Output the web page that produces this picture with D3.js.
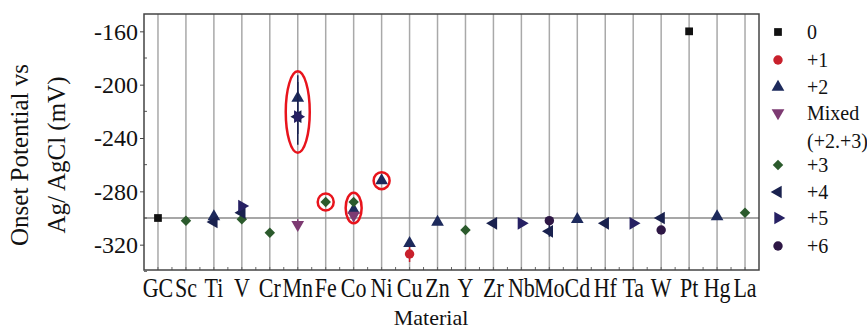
<!DOCTYPE html>
<html>
<head>
<meta charset="utf-8">
<script src="https://cdn.jsdelivr.net/npm/d3@7"></script>
<style>
  body { margin: 0; background: #fff; }
  svg text { font-family: "Liberation Serif", "DejaVu Serif", serif !important; fill: #111; }
</style>
</head>
<body>
<div id="wrapper"></div>
<script>
const materials = ["GC", "Sc", "Ti", "V", "Cr", "Mn", "Fe", "Co", "Ni", "Cu", "Zn",
    "Y", "Zr", "Nb", "Mo", "Cd", "Hf", "Ta", "W", "Pt", "Hg", "La"]
const yTicks = [-320, -280, -240, -200, -160]
const yMinorTicks = [-340, -300, -260, -220, -180]

// [material, onset potential, low, high]
const state0 = [["GC", -300], ["Pt", -160]]
const state1 = [["Cu", -327, -333, -320]]
const state2 = [["Ti", -299], ["Mn", -210, -237, -193], ["Co", -294], ["Ni", -272],
    ["Cu", -319], ["Zn", -303], ["Cd", -301], ["Hg", -299]]
const stateMixed = [["Mn", -305, -309, -301], ["Co", -298]]
const state3 = [["Sc", -302], ["V", -301], ["Cr", -311], ["Fe", -288], ["Co", -288],
    ["Y", -309], ["La", -296]]
const state4 = [["Ti", -303], ["V", -296], ["Mn", -224, -245, -198], ["Zr", -304],
    ["Mo", -310, -314, -305], ["Hf", -304], ["W", -300]]
const state5 = [["V", -291], ["Mn", -224], ["Nb", -304], ["Ta", -304]]
const state6 = [["Mo", -302], ["W", -309]]

const stateNames = ["0", "+1", "+2", "Mixed", "+3", "+4", "+5", "+6"]
const stateData = [state0, state1, state2, stateMixed, state3, state4, state5, state6]
const stateColors = ["#111111", "#c8202c", "#1d2a5c", "#7d3a72", "#2b5a2c", "#19214e", "#262063", "#2e1745"]

// circled points: [material, low, high]
const highlights = [["Mn", -251, -190], ["Fe", -288, -288], ["Co", -304, -281], ["Ni", -272, -272]]

const dimensions = {
    width: 867,
    height: 329,
    margin: { top: 14, right: 108, bottom: 59, left: 144 },
}
dimensions.boundedWidth = dimensions.width - dimensions.margin.left - dimensions.margin.right
dimensions.boundedHeight = dimensions.height - dimensions.margin.top - dimensions.margin.bottom

const wrapper = d3.select("#wrapper")
    .append("svg")
    .attr("width", dimensions.width)
    .attr("height", dimensions.height)

const bounds = wrapper.append("g")
    .attr("transform", `translate(${dimensions.margin.left},${dimensions.margin.top})`)

const xScale = d3.scalePoint()
    .domain(materials)
    .range([0, dimensions.boundedWidth])
    .padding(0.5)
const yScale = d3.scaleLinear()
    .domain([-339, -147])
    .range([dimensions.boundedHeight, 0])

// vertical grid
bounds.append("g")
    .selectAll("line")
    .data(materials)
    .join("line")
    .attr("x1", d => xScale(d))
    .attr("x2", d => xScale(d))
    .attr("y1", 0)
    .attr("y2", dimensions.boundedHeight)
    .attr("stroke", "#a9a9a9")
    .attr("stroke-width", 1.5)

// reference line at GC
bounds.append("line")
    .attr("x1", 0)
    .attr("x2", dimensions.boundedWidth)
    .attr("y1", yScale(state0[0][1]))
    .attr("y2", yScale(state0[0][1]))
    .attr("stroke", "#8a8a8a")
    .attr("stroke-width", 1.5)

// y axis
const yAxis = bounds.append("g")
    .call(d3.axisLeft(yScale).tickValues(yTicks).tickSize(4).tickFormat(d => d))
    .attr("font-family", null)
yAxis.select(".domain").remove()
yAxis.selectAll("line").attr("stroke", "#444")
yAxis.selectAll("text")
    .attr("font-size", 24)
    .attr("x", -6)
    .attr("dy", "0.33em")
bounds.append("g")
    .selectAll("line")
    .data(yMinorTicks)
    .join("line")
    .attr("x1", 0).attr("x2", 3)
    .attr("y1", d => yScale(d)).attr("y2", d => yScale(d))
    .attr("stroke", "#555")

// x axis small ticks inside the frame
const halfSteps = materials.flatMap((m, i) => i < materials.length - 1
    ? [xScale(m), xScale(m) + xScale.step() / 2] : [xScale(m)])
bounds.append("g")
    .selectAll("line")
    .data(halfSteps)
    .join("line")
    .attr("x1", d => d).attr("x2", d => d)
    .attr("y1", dimensions.boundedHeight).attr("y2", dimensions.boundedHeight - 3)
    .attr("stroke", "#666")

bounds.append("g")
    .selectAll("text")
    .data(materials)
    .join("text")
    .attr("text-anchor", "middle")
    .attr("font-size", 22)
    .attr("transform", d => `translate(${xScale(d)},${dimensions.boundedHeight + 27}) scale(1,1.2)`)
    .text(d => d)

// frame
bounds.append("rect")
    .attr("width", dimensions.boundedWidth)
    .attr("height", dimensions.boundedHeight)
    .attr("fill", "none")
    .attr("stroke", "#444")
    .attr("stroke-width", 1.5)

// markers
const symbolFor = i => {
    const types = [d3.symbolSquare, d3.symbolCircle, d3.symbolTriangle, d3.symbolTriangle,
        d3.symbolSquare, d3.symbolTriangle, d3.symbolTriangle, d3.symbolCircle]
    const sizes = [60, 70, 70, 70, 55, 70, 70, 70]
    return d3.symbol().type(types[i]).size(sizes[i])()
}
const rotations = [0, 0, 0, 180, 45, -90, 90, 0]

stateData.forEach((series, i) => {
    const g = bounds.append("g")
    g.selectAll("line")
        .data(series.filter(d => d.length > 2))
        .join("line")
        .attr("x1", d => xScale(d[0])).attr("x2", d => xScale(d[0]))
        .attr("y1", d => yScale(d[2])).attr("y2", d => yScale(d[3]))
        .attr("stroke", stateColors[i])
        .attr("stroke-width", 1.5)
    g.selectAll("path")
        .data(series)
        .join("path")
        .attr("d", symbolFor(i))
        .attr("transform", d => `translate(${xScale(d[0])},${yScale(d[1])}) rotate(${rotations[i]})`)
        .attr("fill", stateColors[i])
})

// red highlight ellipses
bounds.append("g")
    .selectAll("ellipse")
    .data(highlights)
    .join("ellipse")
    .attr("cx", d => xScale(d[0]))
    .attr("cy", d => (yScale(d[1]) + yScale(d[2])) / 2)
    .attr("rx", d => d[0] === "Mn" ? 12 : 8)
    .attr("ry", d => Math.max(8.5, (yScale(d[1]) - yScale(d[2])) / 2))
    .attr("fill", "none")
    .attr("stroke", "#e8141c")
    .attr("stroke-width", 2.5)

// axis titles
wrapper.append("text")
    .attr("transform", "translate(28,155) rotate(-90)")
    .attr("text-anchor", "middle")
    .attr("font-size", 25)
    .text("Onset Potential vs")
wrapper.append("text")
    .attr("transform", "translate(65,155) rotate(-90)")
    .attr("text-anchor", "middle")
    .attr("font-size", 25)
    .text("Ag/ AgCl (mV)")
wrapper.append("text")
    .attr("x", 431)
    .attr("y", 325)
    .attr("text-anchor", "middle")
    .attr("font-size", 22)
    .text("Material")

// legend
const legend = wrapper.append("g").attr("transform", "translate(778,0)")
const legendRows = [32, 60, 87, 113, 165, 192, 218, 246]
stateNames.forEach((name, i) => {
    const row = legend.append("g").attr("transform", `translate(0,${legendRows[i]})`)
    row.append("path")
        .attr("d", symbolFor(i))
        .attr("transform", `rotate(${rotations[i]})`)
        .attr("fill", stateColors[i])
    row.append("text")
        .attr("x", 29)
        .attr("dy", "0.35em")
        .attr("font-size", 20)
        .text(name)
    if (name === "Mixed") {
        row.append("text")
            .attr("x", 29)
            .attr("y", 28)
            .attr("dy", "0.35em")
            .attr("font-size", 20)
            .text("(+2.+3)")
    }
})
</script>
</body>
</html>
